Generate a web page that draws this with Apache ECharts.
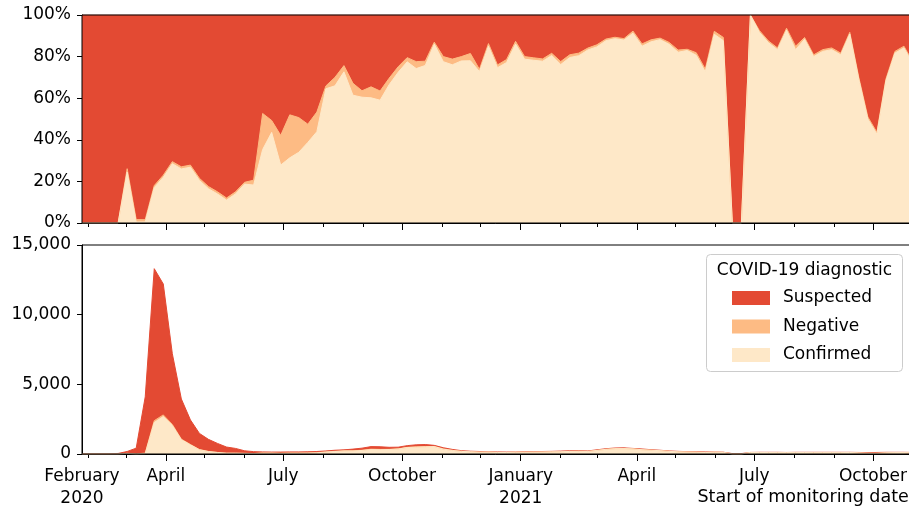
<!DOCTYPE html>
<html>
<head>
<meta charset="utf-8">
<script src="https://cdn.jsdelivr.net/npm/echarts@6/dist/echarts.min.js"></script>
<style>
  html, body { margin: 0; padding: 0; background: #fff; }
  #chart { width: 909px; height: 509px; }
</style>
</head>
<body>
<div id="chart"></div>
<script>
// weekly counts, first week starts 2020-01-27
const firstWeek = [2020, 0, 27];

const confirmed = [
  0, 0, 0, 0, 0, 44, 2, 21, 2261, 2684, 2052, 1027, 657, 303, 173, 106, 55, 56, 43, 31,
  53, 61, 39, 47, 51, 62, 79, 142, 178, 218,
  215, 254, 319, 307, 319, 355, 465, 490, 515, 533,
  349, 251, 187, 156, 131, 136, 112, 108, 129, 126,
  133, 140, 153, 160, 183, 193, 183, 254, 333, 381,
  387, 365, 306, 270, 238, 189, 156, 141, 129, 109,
  127, 114, 0, 0, 110, 110, 104, 100, 102, 100,
  106, 96, 99, 100, 97, 109, 76, 50, 47, 82,
  98, 101, 84
];
const negative = [
  0, 0, 0, 0, 0, 3, 5, 45, 133, 122, 72, 40, 25, 15, 11, 8, 5, 4, 2, 4,
  26, 8, 20, 31, 25, 14, 17, 3, 11, 9,
  20, 13, 28, 23, 15, 13, 12, 22, 14, 6,
  11, 9, 5, 7, 2, 2, 2, 2, 2, 2,
  2, 2, 2, 3, 3, 3, 2, 3, 3, 3,
  3, 4, 4, 3, 2, 2, 2, 1, 2, 2,
  2, 2, 0, 0, 0, 1, 1, 1, 1, 2,
  1, 1, 1, 1, 1, 1, 1, 1, 1, 1,
  1, 1, 1
];
const suspected = [
  20, 20, 20, 20, 40, 133, 413, 4034, 10906, 9394, 5076, 2883, 1768, 1162, 866, 646, 440, 340, 185, 135,
  71, 71, 81, 72, 74, 84, 84, 75, 81, 73,
  115, 153, 183, 190, 146, 122, 123, 148, 151, 81,
  90, 70, 48, 37, 47, 22, 36, 30, 19, 32,
  35, 38, 35, 47, 44, 44, 35, 43, 44, 46,
  50, 31, 50, 37, 30, 29, 32, 28, 29, 39,
  11, 14, 30, 30, 0, 9, 15, 19, 7, 18,
  13, 23, 20, 19, 22, 10, 33, 49, 62, 37,
  21, 18, 25
];

const seriesNames = ["Suspected", "Negative", "Confirmed"];
const seriesColors = ["#e34a33", "#fdbb84", "#fee8c8"];

const axisStart = "2020-01-27";
const axisEnd = "2021-11-01";
const quarterTicks = ["2020-04-01", "2020-07-01", "2020-10-01", "2021-01-01", "2021-04-01", "2021-07-01", "2021-10-01"];
const monthTicks = ["2020-02-01", "2020-03-01", "2020-05-01", "2020-06-01", "2020-08-01", "2020-09-01",
  "2020-11-01", "2020-12-01", "2021-02-01", "2021-03-01", "2021-05-01", "2021-06-01", "2021-08-01", "2021-09-01"];
const labelDates = ["2020-01-27", "2020-04-01", "2020-07-01", "2020-10-01", "2021-01-01", "2021-04-01", "2021-07-01", "2021-10-01"];
const tickLabels = ["February\n2020", "April", "July", "October", "January\n2021", "April", "July", "October"];
const pctTicks = [0, 20, 40, 60, 80, 100];
const countTicks = [0, 5000, 10000, 15000];

// dates are placed on a plain value axis as day numbers
function toDay(s) {
  const p = s.split("-").map(Number);
  return Date.UTC(p[0], p[1] - 1, p[2]) / 86400000;
}

const weeks = confirmed.map((_, i) => Date.UTC(firstWeek[0], firstWeek[1], firstWeek[2] + 7 * i) / 86400000);

// stacked tops, drawn back to front (total, confirmed+negative, confirmed)
const totals = confirmed.map((v, i) => v + negative[i] + suspected[i]);
const stackTops = [
  totals,
  confirmed.map((v, i) => v + negative[i]),
  confirmed
];
const shareTops = stackTops.map(arr => arr.map((v, i) => v / totals[i] * 100));

const labelMap = {};
labelDates.forEach((d, i) => { labelMap[toDay(d)] = tickLabels[i]; });

const font = "DejaVu Sans";
const black = "#000";

function xAxisPair(gridIndex, withLabels) {
  const base = {
    type: "value",
    gridIndex: gridIndex,
    min: toDay(axisStart),
    max: toDay(axisEnd),
    position: "bottom",
    offset: 0,
    scale: true,
    splitLine: { show: false },
    minorTick: { show: false }
  };
  return [
    Object.assign({}, base, {
      axisLine: { show: true, lineStyle: { color: black, width: 1 } },
      axisTick: { show: true, customValues: quarterTicks.map(toDay), length: 7, lineStyle: { color: black } },
      axisLabel: withLabels ? {
        show: true,
        customValues: labelDates.map(toDay),
        formatter: v => labelMap[v] || "",
        fontFamily: font,
        fontSize: 17,
        lineHeight: 22,
        color: black,
        margin: 12,
        showMinLabel: true,
        showMaxLabel: true,
        hideOverlap: false
      } : { show: false }
    }),
    Object.assign({}, base, {
      axisLine: { show: false },
      axisTick: { show: true, customValues: monthTicks.map(toDay), length: 4, lineStyle: { color: black } },
      axisLabel: { show: false }
    })
  ];
}

function yAxis(gridIndex, max, interval, formatter) {
  return {
    type: "value",
    gridIndex: gridIndex,
    min: 0,
    max: max,
    interval: interval,
    splitLine: { show: false },
    axisLine: { show: true, lineStyle: { color: black } },
    axisTick: { show: true, length: 5, lineStyle: { color: black } },
    axisLabel: { formatter: formatter, fontFamily: font, fontSize: 17, color: black, margin: 11 }
  };
}

function areaSeries(name, color, xIdx, yIdx, values) {
  return {
    name: name,
    type: "line",
    xAxisIndex: xIdx,
    yAxisIndex: yIdx,
    symbol: "none",
    smooth: false,
    itemStyle: { color: color },
    lineStyle: { color: color, width: 1 },
    areaStyle: { color: color, opacity: 1, origin: "start" },
    data: weeks.map((t, i) => [t, values[i]])
  };
}

const series = [];
seriesNames.forEach((name, k) => {
  series.push(areaSeries(name, seriesColors[k], 0, 0, shareTops[k]));
});
seriesNames.forEach((name, k) => {
  series.push(areaSeries(name, seriesColors[k], 2, 1, stackTops[k]));
});

const chart = echarts.init(document.getElementById("chart"), null, { renderer: "canvas" });
chart.setOption({
  animation: false,
  backgroundColor: "#fff",
  textStyle: { fontFamily: font },
  grid: [
    { left: 82, right: -4, top: 15, height: 208, show: true, borderColor: black, borderWidth: 1, backgroundColor: "transparent", z: 5, outerBoundsMode: "none" },
    { left: 82, right: -4, top: 245, height: 209, show: true, borderColor: black, borderWidth: 1, backgroundColor: "transparent", z: 5, outerBoundsMode: "none" }
  ],
  xAxis: xAxisPair(0, false).concat(xAxisPair(1, true)),
  yAxis: [
    yAxis(0, pctTicks[pctTicks.length - 1], pctTicks[1] - pctTicks[0], "{value}%"),
    yAxis(1, countTicks[countTicks.length - 1], countTicks[1] - countTicks[0], v => v.toLocaleString("en-US"))
  ],
  legend: {
    data: ["Suspected", "Negative", "Confirmed"],
    orient: "vertical",
    left: 732,
    top: 288,
    padding: 0,
    icon: "rect",
    itemWidth: 38,
    itemHeight: 14,
    itemGap: 8.5,
    selectedMode: false,
    textStyle: { fontFamily: font, fontSize: 17, color: black, lineHeight: 20, padding: [0, 0, 0, 8] },
    z: 12
  },
  graphic: [
    {
      type: "rect",
      shape: { x: 706.5, y: 254.5, width: 196, height: 117, r: 4 },
      style: { fill: "rgba(255,255,255,0.8)", stroke: "#cccccc", lineWidth: 1 },
      z: 10
    },
    {
      type: "text",
      x: 804.5,
      y: 271,
      style: { text: "COVID-19 diagnostic", font: "17px 'DejaVu Sans'", fill: black, textAlign: "center", textVerticalAlign: "middle" },
      z: 11
    },
    {
      type: "text",
      x: 697.5,
      y: 497,
      style: { text: "Start of monitoring date", font: "17.5px 'DejaVu Sans'", fill: black, textAlign: "left", textVerticalAlign: "middle" },
      z: 11
    }
  ],
  series: series
});
</script>
</body>
</html>
